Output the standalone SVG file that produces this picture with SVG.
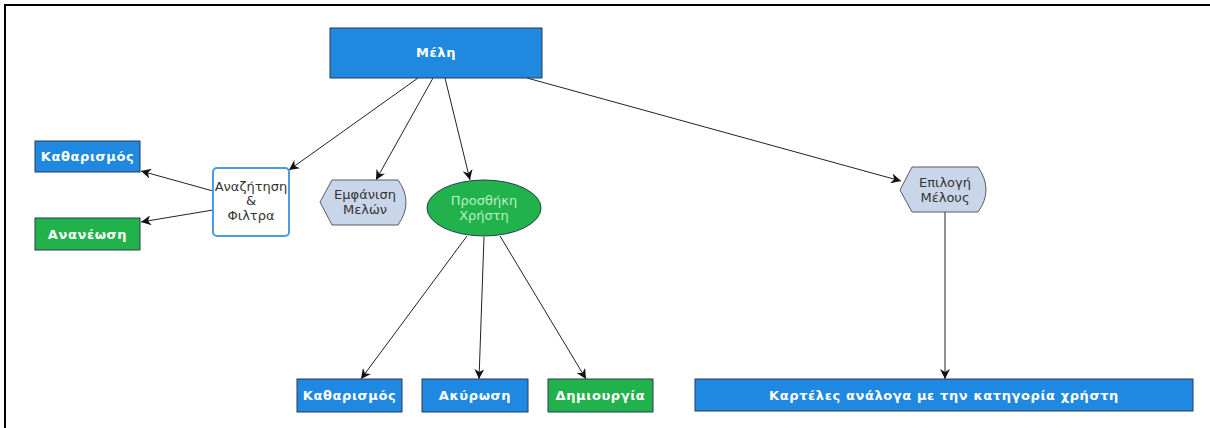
<svg xmlns="http://www.w3.org/2000/svg" width="1210" height="428" viewBox="0 0 1210 428">
<style>
.box{stroke:#2b3a55;stroke-width:1}
.blue{fill:#1f88e0}
.green{fill:#22b24c}
.lbl{font-family:"DejaVu Sans",Verdana,sans-serif;font-size:13px;font-weight:bold;letter-spacing:0.6px;fill:#ffffff;text-anchor:middle}
.dark{font-family:"DejaVu Sans",Verdana,sans-serif;font-size:13px;fill:#333333;text-anchor:middle}
.conn{stroke:#222;stroke-width:1;fill:none;marker-end:url(#arr)}
.disp{fill:#c9d6ea;stroke:#555c66;stroke-width:1}
</style>
<defs>
<marker id="arr" viewBox="0 0 10 10" refX="10" refY="5" markerWidth="10" markerHeight="10" markerUnits="userSpaceOnUse" orient="auto">
<path d="M0,0 L10,5 L0,10 L3,5 z" fill="#111"/>
</marker>
</defs>
<rect width="1210" height="428" fill="#ffffff"/>
<path d="M5,428 L5,5 L1210,5" fill="none" stroke="#000" stroke-width="2"/>
<g id="connectors">
<line class="conn" x1="418" y1="78" x2="289" y2="170"/>
<line class="conn" x1="433" y1="78" x2="376" y2="180"/>
<line class="conn" x1="445" y1="78" x2="470" y2="180"/>
<line class="conn" x1="527" y1="78" x2="901" y2="181"/>
<line class="conn" x1="213" y1="191" x2="141" y2="171"/>
<line class="conn" x1="213" y1="210" x2="141" y2="222"/>
<line class="conn" x1="467" y1="236" x2="361" y2="379"/>
<line class="conn" x1="484" y1="237" x2="479" y2="379"/>
<line class="conn" x1="500" y1="236" x2="586" y2="379"/>
<line class="conn" x1="945" y1="212" x2="945" y2="379"/>
</g>
<g id="n-meli">
<rect class="box blue" x="330" y="28" width="212" height="50"/>
<text class="lbl" x="436" y="57">Μέλη</text>
</g>
<g id="n-katharismos1">
<rect class="box blue" x="35" y="141" width="105" height="31"/>
<text class="lbl" x="87.5" y="161">Καθαρισμός</text>
</g>
<g id="n-ananeosi">
<rect class="box green" x="35" y="218" width="105" height="32"/>
<text class="lbl" x="87.5" y="239">Ανανέωση</text>
</g>
<g id="n-anazitisi">
<rect x="213" y="168" width="76" height="68" rx="4" fill="#ffffff" stroke="#4a9be6" stroke-width="2"/>
<text class="dark" x="251" y="191">Αναζήτηση</text>
<text class="dark" x="251" y="205">&amp;</text>
<text class="dark" x="251" y="220">Φιλτρα</text>
</g>
<g id="n-emfanisi">
<path class="disp" d="M332,180 L398,180 Q414,202 398,225 L332,225 L320,202 Z"/>
<text class="dark" x="365" y="199">Εμφάνιση</text>
<text class="dark" x="365" y="214">Μελών</text>
</g>
<g id="n-prosthiki">
<ellipse cx="484" cy="208" rx="57" ry="28" fill="#22b24c" stroke="#2b3a55" stroke-width="1"/>
<text class="dark" x="484" y="205" style="fill:#b8f0c4">Προσθήκη</text>
<text class="dark" x="484" y="220" style="fill:#b8f0c4">Χρήστη</text>
</g>
<g id="n-epilogi">
<path class="disp" d="M912,167 L978,167 Q994,190 978,212 L912,212 L900,190 Z"/>
<text class="dark" x="945" y="187">Επιλογή</text>
<text class="dark" x="945" y="202">Μέλους</text>
</g>
<g id="n-katharismos2">
<rect class="box blue" x="297" y="379" width="105" height="33"/>
<text class="lbl" x="349.5" y="400">Καθαρισμός</text>
</g>
<g id="n-akyrosi">
<rect class="box blue" x="422" y="379" width="106" height="33"/>
<text class="lbl" x="475" y="400">Ακύρωση</text>
</g>
<g id="n-dimiourgia">
<rect class="box green" x="548" y="379" width="105" height="33"/>
<text class="lbl" x="600.5" y="400">Δημιουργία</text>
</g>
<g id="n-kartele">
<rect class="box blue" x="695" y="379" width="498" height="32"/>
<text class="lbl" x="944" y="400">Καρτέλες ανάλογα με την κατηγορία χρήστη</text>
</g>
</svg>
